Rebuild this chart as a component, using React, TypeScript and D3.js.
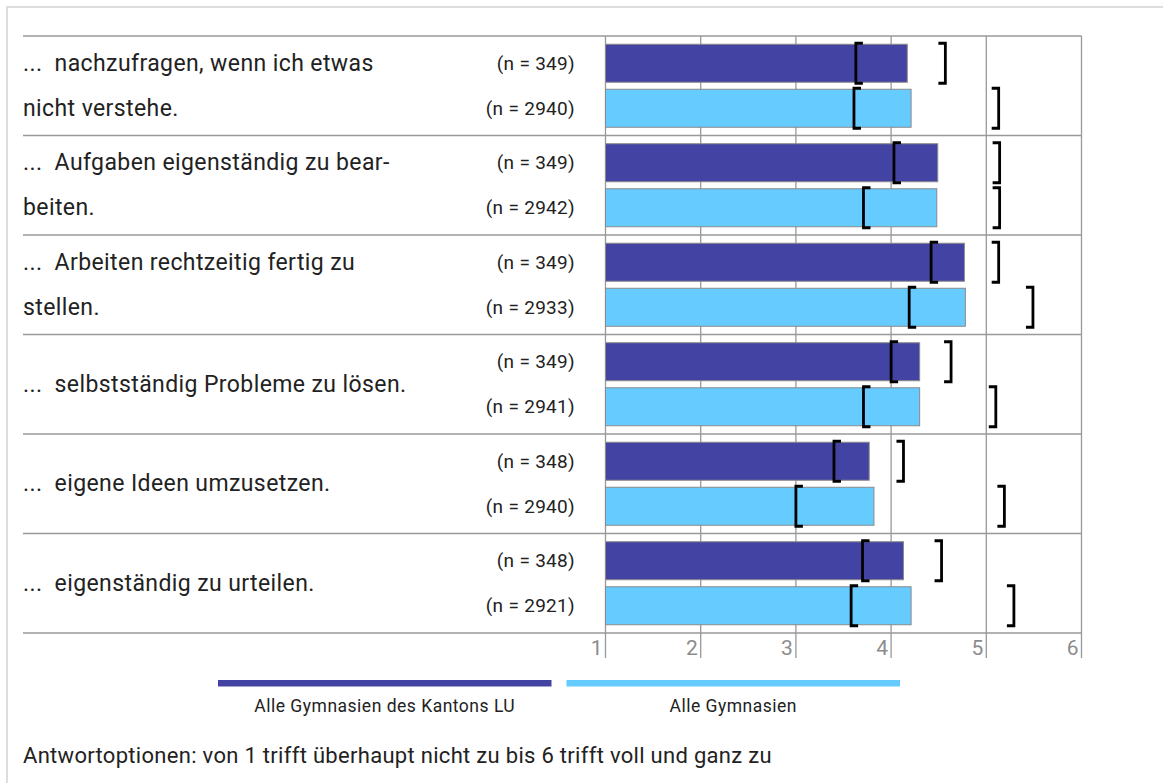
import React from "react";
import * as d3 from "d3";

const categories = ["g1", "g2", "g3", "g4", "g5", "g6"];
const labelLines: string[][] = [
  ["...  nachzufragen, wenn ich etwas", "nicht verstehe."],
  ["...  Aufgaben eigenständig zu bear-", "beiten."],
  ["...  Arbeiten rechtzeitig fertig zu", "stellen."],
  ["...  selbstständig Probleme zu lösen."],
  ["...  eigene Ideen umzusetzen."],
  ["...  eigenständig zu urteilen."],
];
const seriesNames = ["Alle Gymnasien des Kantons LU", "Alle Gymnasien"];
const nLU = [349, 349, 349, 349, 348, 348];
const nAll = [2940, 2942, 2933, 2941, 2940, 2921];
const meanLU = [4.17, 4.49, 4.77, 4.3, 3.77, 4.13];
const meanAll = [4.21, 4.48, 4.78, 4.3, 3.82, 4.21];
const lowLU = [3.63, 4.03, 4.42, 4.0, 3.4, 3.7];
const highLU = [4.57, 5.14, 5.13, 4.63, 4.13, 4.53];
const lowAll = [3.61, 3.71, 4.19, 3.71, 3.0, 3.58];
const highAll = [5.13, 5.14, 5.49, 5.1, 5.19, 5.29];
const ticks = [1, 2, 3, 4, 5, 6];
const note = "Antwortoptionen: von 1 trifft überhaupt nicht zu bis 6 trifft voll und ganz zu";

const COLORS = ["#4343a3", "#66ccff"];
const GRID = "#999999";
const FONT = "Roboto, 'DejaVu Sans', sans-serif";

export default function App() {
  const W = 1163, H = 783;
  const x = d3.scaleLinear().domain([1, 6]).range([605.5, 1081.5]);
  const y = d3.scaleBand<string>().domain(categories).range([36, 633]).paddingInner(0).paddingOuter(0);
  const inner = d3.scaleBand<string>().domain(["LU", "All"]).range([0, y.bandwidth()]).paddingInner(0.156).paddingOuter(0.183);
  const bw = inner.bandwidth();

  const series = [
    { key: "LU", mean: meanLU, lo: lowLU, hi: highLU, n: nLU, color: COLORS[0] },
    { key: "All", mean: meanAll, lo: lowAll, hi: highAll, n: nAll, color: COLORS[1] },
  ];

  const legend = d3.scaleBand<string>().domain(seriesNames).range([218, 900]).paddingInner(0.043);

  return (
    <svg width={W} height={H} style={{ position: "absolute", left: 0, top: 0, background: "#fff" }}>
      {/* frame */}
      <line x1={6.5} x2={W} y1={7} y2={7} stroke="#dddddd" strokeWidth={2} />
      <line x1={7} x2={7} y1={6} y2={H} stroke="#dddddd" strokeWidth={2} />

      {/* vertical grid */}
      {ticks.map((t) => (
        <line key={"v" + t} x1={x(t)} x2={x(t)} y1={36} y2={658} stroke={GRID} strokeWidth={1.3} />
      ))}
      {/* horizontal separators */}
      {[...categories.map((c) => y(c)!), 633].map((yy, i) => (
        <line key={"h" + i} x1={23} x2={1081.5} y1={yy} y2={yy} stroke={GRID} strokeWidth={1.5} />
      ))}
      {/* tick labels */}
      {ticks.map((t) => (
        <text key={"t" + t} x={x(t) - 3} y={648} textAnchor="end" dominantBaseline="central" fill="#8c8c8c" fontFamily={FONT} fontSize={21}>
          {t}
        </text>
      ))}

      {categories.map((c, i) => {
        const g0 = y(c)!;
        const lines = labelLines[i];
        return (
          <g key={c}>
            {series.map((s) => {
              const top = g0 + inner(s.key)!;
              const cy = top + bw / 2;
              const xl = x(s.lo[i]);
              const xh = x(s.hi[i]);
              const arm = 7;
              const b0 = top - 1;
              const b1 = top + bw + 1;
              return (
                <g key={s.key}>
                  <rect x={x(1)} y={top} width={x(s.mean[i]) - x(1)} height={bw} fill={s.color} stroke="#8a8a8a" strokeWidth={1} />
                  <path d={`M${xl + arm},${b0}H${xl}V${b1}H${xl + arm}`} fill="none" stroke="#000" strokeWidth={2.8} />
                  <path d={`M${xh - arm},${b0}H${xh}V${b1}H${xh - arm}`} fill="none" stroke="#000" strokeWidth={2.8} />
                  <text x={575} y={cy} textAnchor="end" dominantBaseline="central" fill="#222" fontFamily={FONT} fontSize={19} letterSpacing={0.3}>
                    {`(n = ${s.n[i]})`}
                  </text>
                </g>
              );
            })}
            {lines.length === 2
              ? lines.map((ln, k) => (
                  <text key={k} x={23} y={g0 + inner(k === 0 ? "LU" : "All")! + bw / 2} dominantBaseline="central" fill="#222" fontFamily={FONT} fontSize={23} letterSpacing={0.4} style={{ whiteSpace: "pre" }}>
                    {ln}
                  </text>
                ))
              : (
                  <text x={23} y={g0 + y.bandwidth() / 2} dominantBaseline="central" fill="#222" fontFamily={FONT} fontSize={23} letterSpacing={0.4} style={{ whiteSpace: "pre" }}>
                    {lines[0]}
                  </text>
                )}
          </g>
        );
      })}

      {/* legend */}
      {seriesNames.map((nm, i) => (
        <g key={nm}>
          <rect x={legend(nm)!} y={680} width={legend.bandwidth()} height={6.5} fill={COLORS[i]} />
          <text x={legend(nm)! + legend.bandwidth() / 2} y={706} textAnchor="middle" dominantBaseline="central" fill="#222" fontFamily={FONT} fontSize={17.5} letterSpacing={0.5}>
            {nm}
          </text>
        </g>
      ))}

      <text x={23} y={755} dominantBaseline="central" fill="#222" fontFamily={FONT} fontSize={22} letterSpacing={0.3}>
        {note}
      </text>
    </svg>
  );
}
